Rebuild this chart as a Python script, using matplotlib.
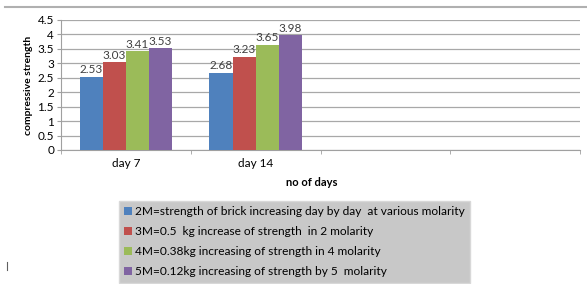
import matplotlib.pyplot as plt
import numpy as np
from matplotlib.lines import Line2D
from matplotlib.patches import Patch

plt.rcParams['font.family'] = ['Lato', 'DejaVu Sans']

categories = ['day 7', 'day 14', '', '']
series_names = ['2M=strength of brick increasing day by day  at various molarity',
                '3M=0.5  kg increase of strength  in 2 molarity',
                '4M=0.38kg increasing of strength in 4 molarity',
                '5M=0.12kg increasing of strength by 5  molarity']
vals_2m = [2.53, 2.68]
vals_3m = [3.03, 3.23]
vals_4m = [3.41, 3.65]
vals_5m = [3.53, 3.98]
colors = ['#4F81BD', '#C0504D', '#9BBB59', '#8064A2']

fig = plt.figure(figsize=(5.87, 2.84), dpi=100)
ax = fig.add_axes([61/587, 1-150/284, 519/587, 130/284])

x = np.arange(len(categories[:2]))
w = 0.178
allvals = [vals_2m, vals_3m, vals_4m, vals_5m]
for i, (v, c) in enumerate(zip(allvals, colors)):
    pos = x + (i - 1.5)*w
    ax.bar(pos, v, w, color=c, zorder=3)
    for p, val in zip(pos, v):
        ax.text(p, val + 0.05, '%.2f' % val, ha='center', va='bottom',
                fontsize=8.5, color='#404040', zorder=4)

ax.set_xlim(-0.5, 3.5)
ax.set_ylim(0, 4.5)
ax.set_yticks(np.arange(0, 4.51, 0.5))
ax.set_yticklabels(['0', '0.5', '1', '1.5', '2', '2.5', '3', '3.5', '4', '4.5'], fontsize=8.5)
ax.set_xticks(np.arange(4))
ax.set_xticklabels(categories, fontsize=8.5)
ax.set_xticks(np.arange(-0.5, 3.6, 1), minor=True)
ax.tick_params(axis='x', which='major', length=0, pad=6)
ax.tick_params(axis='x', which='minor', length=3, color='#a0a0a0')
ax.tick_params(axis='y', length=3, color='#a0a0a0', pad=2)
ax.grid(axis='y', color='#a8a8a8', linewidth=0.9, zorder=0)
for s in ['top', 'right']:
    ax.spines[s].set_visible(False)
ax.spines['left'].set_color('#a0a0a0')
ax.spines['bottom'].set_color('#a0a0a0')

ax.set_ylabel('compressive strength', fontsize=7.5, fontweight='bold', labelpad=3)
fig.text(312/587, 1-182/284, 'no of days', fontsize=8, fontweight='bold',
         ha='center', va='center')

fig.add_artist(Line2D([5/587, 1], [1-7/284, 1-7/284], color='#b0b0b0', lw=1.5))
fig.add_artist(Line2D([7/587, 7/587], [1-262/284, 1-270/284], color='#606060', lw=0.8))

handles = [Patch(facecolor=c) for c in colors]
leg = fig.legend(handles, series_names, loc='upper left',
                 bbox_to_anchor=(119/587, 1-201/284), fontsize=8.6,
                 frameon=True, fancybox=False, handlelength=0.6, handleheight=0.6,
                 handletextpad=0.3, labelspacing=0.75, borderpad=0.45,
                 borderaxespad=0)
leg.get_frame().set_facecolor('#c8c8c8')
leg.get_frame().set_edgecolor('#d8d8d8')
leg.get_frame().set_alpha(1)

fig.savefig('out.png', dpi=100)
